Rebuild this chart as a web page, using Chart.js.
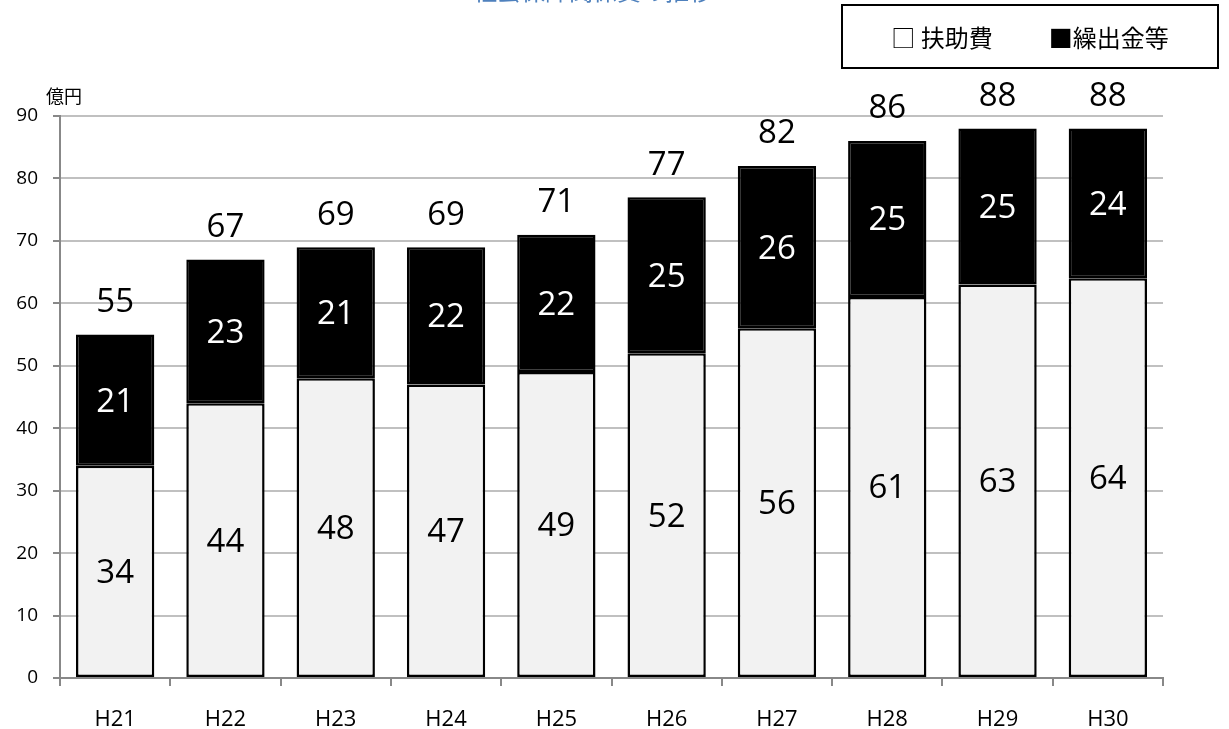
<!DOCTYPE html>
<html lang="ja">
<head>
<meta charset="utf-8">
<script src="https://cdn.jsdelivr.net/npm/chart.js@4.4.1/dist/chart.umd.min.js"></script>
<style>
    html, body { margin: 0; padding: 0; background: #fff; overflow: hidden; }
    #wrap { position: relative; width: 1229px; height: 729px; }
    #title {
        position: absolute; left: 593px; top: -28px; transform: translateX(-50%);
        font: 24px "Noto Sans CJK JP"; color: #4f81bd; white-space: nowrap;
    }
    #legend {
        position: absolute; left: 841px; top: 4px; width: 374px; height: 61px;
        border: 2px solid #000; font: 24px "Noto Sans CJK JP"; color: #000;
        display: flex; align-items: center; justify-content: center; gap: 56px;
    }
    #unit { position: absolute; left: 46px; top: 82px; font: 18px "Noto Sans CJK JP"; color: #000; }
</style>
</head>
<body>
<div id="wrap">
    <canvas id="chart" width="1229" height="729"></canvas>
    <div id="title">社会保障関係費の推移</div>
    <div id="legend"><span>□ 扶助費</span><span>■繰出金等</span></div>
    <div id="unit">億円</div>
</div>
<script>
// ==============================
// DATA
// ==============================
const years = ["H21", "H22", "H23", "H24", "H25", "H26", "H27", "H28", "H29", "H30"];
const fujohi = [34, 44, 48, 47, 49, 52, 56, 61, 63, 64];      // 扶助費
const kuridashi = [21, 23, 21, 22, 22, 25, 26, 25, 25, 24];   // 繰出金等
const totals = [55, 67, 69, 69, 71, 77, 82, 86, 88, 88];
const yTicks = [0, 10, 20, 30, 40, 50, 60, 70, 80, 90];

const numFont = "'Open Sans', Lato, sans-serif";

// ==============================
// LABELS ON BARS
// ==============================
const barLabels = {
    id: "barLabels",
    afterDatasetsDraw(chart) {
        const ctx = chart.ctx;
        ctx.save();
        ctx.font = "33px " + numFont;
        ctx.textAlign = "center";
        ctx.textBaseline = "middle";
        chart.data.datasets.forEach((ds, di) => {
            const meta = chart.getDatasetMeta(di);
            meta.data.forEach((el, i) => {
                ctx.fillStyle = di === 0 ? "#000" : "#fff";
                ctx.fillText(ds.data[i], el.x, (el.y + el.base) / 2 + 2);
                if (di === 1) {
                    ctx.fillStyle = "#000";
                    ctx.fillText(totals[i], el.x, el.y - 32);
                }
            });
        });
        ctx.restore();
    }
};

new Chart(document.getElementById("chart"), {
    type: "bar",
    data: {
        labels: years,
        datasets: [
            {
                label: "扶助費",
                data: fujohi,
                backgroundColor: "#f2f2f2",
                borderColor: "#000",
                borderWidth: 2.5,
                borderSkipped: false
            },
            {
                label: "繰出金等",
                data: kuridashi,
                backgroundColor: "#000",
                borderColor: "#000",
                borderWidth: 2.5,
                borderSkipped: false
            }
        ]
    },
    options: {
        responsive: false,
        animation: false,
        layout: { padding: { top: 116, right: 66, left: 0, bottom: 0 } },
        datasets: { bar: { categoryPercentage: 1, barPercentage: 0.71 } },
        plugins: { legend: { display: false }, tooltip: { enabled: false } },
        scales: {
            x: {
                stacked: true,
                afterFit(s) { s.height = 51; },
                grid: { drawOnChartArea: false, drawTicks: true, tickLength: 8, color: "#888", lineWidth: 2 },
                border: { color: "#888", width: 2 },
                ticks: { color: "#000", padding: 21, font: { family: numFont, size: 22 } }
            },
            y: {
                stacked: true,
                min: 0,
                max: 90,
                afterFit(s) { s.width = 60; },
                afterBuildTicks(s) { s.ticks = yTicks.map(v => ({ value: v })); },
                grid: { color: "#c0c0c0", lineWidth: 2, tickLength: 7, tickColor: "#888" },
                border: { color: "#888", width: 2 },
                ticks: { color: "#000", padding: 15, font: { family: numFont, size: 19 } }
            }
        }
    },
    plugins: [barLabels]
});
</script>
</body>
</html>
